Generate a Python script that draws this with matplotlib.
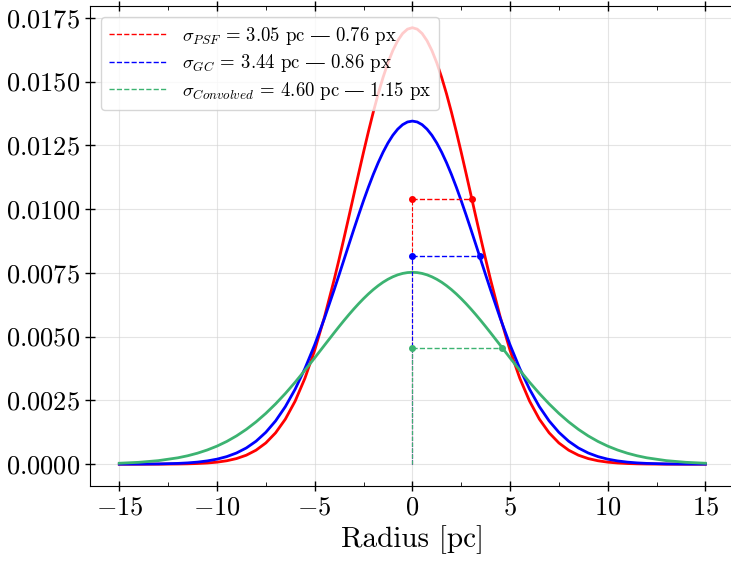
import numpy as np
import matplotlib
matplotlib.use('Agg')
import matplotlib.pyplot as plt
from matplotlib.ticker import MultipleLocator

plt.rcParams['font.family'] = ['cmr10', 'DejaVu Serif']
plt.rcParams['mathtext.fontset'] = 'cm'
plt.rcParams['axes.formatter.use_mathtext'] = True

r_half = [0, 0.25, 0.5, 0.75, 1, 1.25, 1.5, 1.75, 2, 2.25, 2.5, 2.75, 3, 3.25,
          3.5, 3.75, 4, 4.5, 5, 5.5, 6, 6.5, 7, 7.5, 8, 8.5, 9, 9.5, 10, 10.5,
          11, 11.5, 12, 13, 14, 15]
psf_half = [0.01711, 0.017053, 0.016882, 0.016600, 0.016215, 0.015732, 0.015161,
            0.014513, 0.013800, 0.013034, 0.012228, 0.011395, 0.010548, 0.009698,
            0.008858, 0.008035, 0.007240, 0.005762, 0.004463, 0.003366, 0.002471,
            0.001766, 0.001229, 0.000832, 0.000549, 0.000352, 0.000220, 0.000134,
            0.0000793, 0.0000457, 0.0000256, 0.0000140, 0.0000074, 0.000001,
            0.0, 0.0]
gc_half = [0.013449, 0.013414, 0.013308, 0.013133, 0.012893, 0.012590, 0.012229,
           0.011816, 0.011358, 0.010859, 0.010328, 0.009770, 0.009195, 0.008607,
           0.008015, 0.007424, 0.006841, 0.005716, 0.004677, 0.003747, 0.002938,
           0.002256, 0.001696, 0.001249, 0.000900, 0.000635, 0.000439, 0.000297,
           0.000197, 0.000128, 0.0000810, 0.0000503, 0.0000306, 0.0000107,
           0.0000034, 0.0000010]
conv_half = [0.007521, 0.007510, 0.007477, 0.007422, 0.007345, 0.007248, 0.007132,
             0.006996, 0.006843, 0.006673, 0.006488, 0.006290, 0.006080, 0.005860,
             0.005631, 0.005395, 0.005153, 0.004661, 0.004166, 0.003680, 0.003212,
             0.002771, 0.002363, 0.001991, 0.001658, 0.001364, 0.001109, 0.000891,
             0.000708, 0.000556, 0.000431, 0.000330, 0.000250, 0.000139,
             0.0000733, 0.0000369]

# сигмы и высоты на уровне sigma
sigmas = [3.05, 3.44, 4.60]
sigma_px = [0.76, 0.86, 1.15]
level = [0.01038, 0.00816, 0.00456]
names = ['PSF', 'GC', 'Convolved']
colors = ['red', 'blue', 'mediumseagreen']


def mirror(half):
    half = list(half)
    return half[:0:-1] + half


r = [-v for v in r_half[:0:-1]] + r_half
curves = [mirror(psf_half), mirror(gc_half), mirror(conv_half)]

fig = plt.figure(figsize=(7.31, 5.61), dpi=100)
ax = fig.add_axes([0.1231, 0.1337, 0.882, 0.8556])

for y, c in zip(curves, colors):
    ax.plot(r, y, color=c, lw=2)

for s, spx, lv, n, c in zip(sigmas, sigma_px, level, names, colors):
    ax.plot([0, s], [lv, lv], '--', color=c, lw=1,
            label=r'$\sigma_{%s}$ = %.2f pc $—$ %.2f px' % (n, s, spx))
    ax.plot([0, s], [lv, lv], 'o', color=c, ms=4)
    ax.plot([0, 0], [0, lv], '--', color=c, lw=0.8)

ax.set_xlim(-16.5, 16.5)
ax.set_ylim(-0.000855, 0.01796)
ax.xaxis.set_major_locator(MultipleLocator(5))
ax.xaxis.set_minor_locator(MultipleLocator(2.5))
ax.yaxis.set_major_locator(MultipleLocator(0.0025))
ax.yaxis.set_major_formatter(plt.FormatStrFormatter('$%.4f$'))
ax.tick_params(axis='both', which='major', labelsize=19, direction='inout',
               length=7, width=1)
ax.tick_params(axis='x', which='both', top=True)
ax.tick_params(axis='x', which='minor', direction='in', length=3)
ax.spines['right'].set_visible(False)
ax.grid(True, color='lightgray', alpha=0.6)
ax.set_xlabel('Radius [pc]', fontsize=21)

ax.legend(loc='upper left', fontsize=13.5, handlelength=3.1, borderaxespad=0.6,
          labelspacing=0.3)

fig.savefig('out.png', dpi=100)
